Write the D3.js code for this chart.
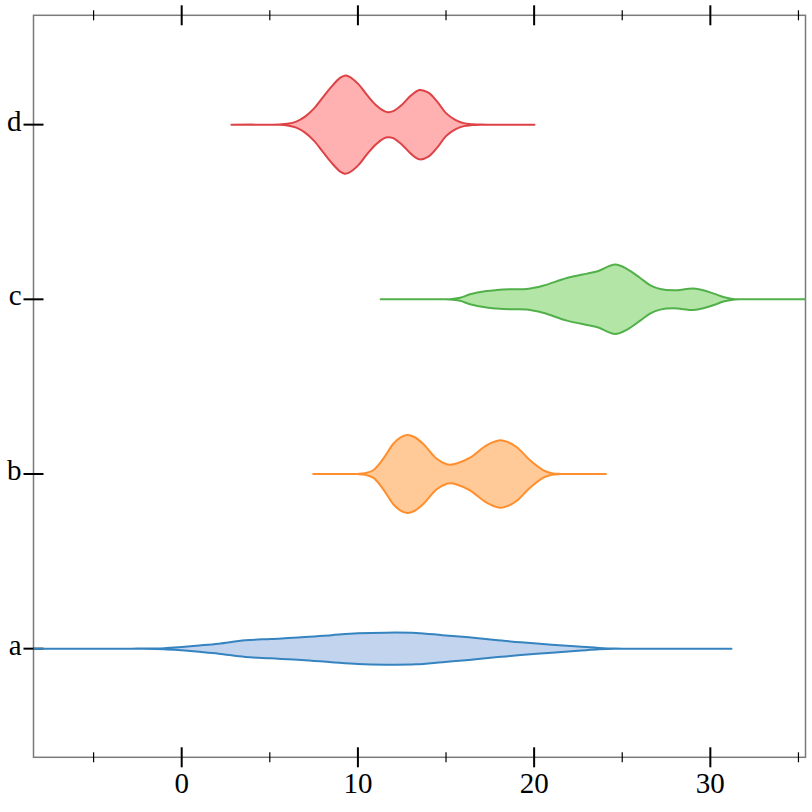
<!DOCTYPE html>
<html>
<head>
<meta charset="utf-8">
<script src="https://cdn.jsdelivr.net/npm/d3@7"></script>
<style>
  html, body { margin: 0; padding: 0; background: #fff; }
  svg { display: block; }
</style>
</head>
<body>
<svg id="chart" width="812" height="812"></svg>
<script>
// ---- data ----
const categories = ["a", "b", "c", "d"];
const majorTicks = [0, 10, 20, 30];
const minorTicks = [-5, 5, 15, 25, 35];
const tickLabels = ["0", "10", "20", "30"];

// density profiles: [value, density]
const violinA = [[-9,0],[-3.5,0],[-2.5,0.05],[-1.0,0.5],[0.0,1.7],[1.0,3.2],[2.1,5],[3.6,8.3],[5.05,9.7],[6.8,11.3],[8.5,13.5],[10.0,15.3],[11.56,16],[13.3,15.7],[14.8,13.5],[16.3,11.3],[17.8,8.7],[19.25,6.3],[21.0,4],[22.5,2.2],[23.7,0.7],[24.6,0.05],[25.6,0],[31.2,0]];
const violinB = [[7.46,0],[9.4,0],[10.0,0.1],[10.4,0.8],[10.87,3.7],[11.44,15.3],[12.0,30],[12.4,36.3],[12.8,39],[13.2,37],[13.71,30],[14.47,15.3],[15.04,9.7],[15.23,9.3],[15.6,10.5],[16.36,16.3],[17.3,28.7],[18.07,33.7],[18.5,32],[19.0,27],[19.77,13.7],[20.53,3.7],[21.0,0.8],[21.5,0.1],[22.1,0],[24.07,0]];
const violinC = [[11.29,0],[14.6,0],[15.2,0.1],[15.8,1.5],[16.36,5],[17.3,8.3],[17.88,9.3],[18.6,10],[19.58,10.3],[20.5,13.5],[21.86,21.3],[23.0,25.7],[23.6,28],[24.6,34.7],[25.3,30],[26.02,21.3],[26.6,14],[27.16,10.3],[27.9,9],[29.05,10.7],[29.6,9],[30.2,5.7],[30.8,2],[31.4,0.1],[32.0,0],[36,0]];
const violinD = [[2.82,0],[5.0,0],[5.5,0.1],[6.0,0.8],[6.5,3],[7.0,8],[7.5,16],[8.0,27],[8.5,38],[9.0,47],[9.25,49],[9.5,48],[10.0,41],[10.5,30],[11.0,20],[11.5,13.5],[11.7,12.5],[12.0,13.5],[12.5,20],[13.0,29],[13.5,34.7],[14.0,32],[14.5,23],[15.0,11.5],[15.5,5],[16.0,1.5],[16.5,0.4],[17,0.05],[17.6,0],[20.02,0]];

const violins = [violinA, violinB, violinC, violinD];
const strokeColors = ["#3584c0", "#ff8f2e", "#52b04b", "#dd4246"];
const fillColors = ["#c3d4ee", "#ffca98", "#b3e6a6", "#ffb0b0"];

(function () {
// ---- layout ----
const svg = d3.select("#chart");
const pl = 33.5, pr = 805.5, pt = 15.3, pb = 757.3;

const x = d3.scaleLinear().domain([-8.41, 35.40]).range([pl, pr]);
const y = d3.scaleLinear().domain([-0.622, 3.626]).range([pb, pt]);
const step = y(0) - y(1);
const w = d3.scaleLinear().domain([0, 50]).range([0, 50 / 174.67 * step]);

const fontFamily = "'Liberation Serif', 'Times New Roman', serif";

// clip
svg.append("defs").append("clipPath").attr("id", "clip")
  .append("rect").attr("x", pl).attr("y", pt)
  .attr("width", pr - pl).attr("height", pb - pt);

// frame
svg.append("rect")
  .attr("x", pl).attr("y", pt)
  .attr("width", pr - pl).attr("height", pb - pt)
  .attr("fill", "none").attr("stroke", "#7a7a7a").attr("stroke-width", 1.5);

// x ticks (top and bottom, crossing the frame)
[pb, pt].forEach(yy => {
  const g = svg.append("g");
  g.selectAll("line.major").data(majorTicks).join("line")
    .attr("class", "major")
    .attr("x1", d => x(d)).attr("x2", d => x(d))
    .attr("y1", yy - 10).attr("y2", yy + 10)
    .attr("stroke", "#000").attr("stroke-width", 2);
  g.selectAll("line.minor").data(minorTicks.filter(d => x(d) <= pr)).join("line")
    .attr("class", "minor")
    .attr("x1", d => x(d)).attr("x2", d => x(d))
    .attr("y1", yy - 5).attr("y2", yy + 5)
    .attr("stroke", "#000").attr("stroke-width", 1.2);
});

// x labels
svg.append("g").selectAll("text").data(majorTicks).join("text")
  .attr("x", d => x(d)).attr("y", pb + 36)
  .attr("text-anchor", "middle")
  .attr("font-family", fontFamily).attr("font-size", 29)
  .attr("fill", "#000")
  .text((d, i) => tickLabels[i]);

// y ticks and labels
const gy = svg.append("g");
gy.selectAll("line").data(categories).join("line")
  .attr("x1", pl - 10).attr("x2", pl + 10)
  .attr("y1", (d, i) => y(i)).attr("y2", (d, i) => y(i))
  .attr("stroke", "#000").attr("stroke-width", 2);
gy.selectAll("text").data(categories).join("text")
  .attr("x", pl - 12).attr("y", (d, i) => y(i) + 6)
  .attr("text-anchor", "end")
  .attr("font-family", fontFamily).attr("font-size", 29)
  .attr("fill", "#000")
  .text(d => d);

// violins
const gv = svg.append("g").attr("clip-path", "url(#clip)");
violins.forEach((prof, i) => {
  const yc = y(i);
  const area = d3.area()
    .x(d => x(d[0]))
    .y0(d => yc + w(d[1]))
    .y1(d => yc - w(d[1]))
    .curve(d3.curveCatmullRom.alpha(0.5));
  gv.append("path")
    .datum(prof)
    .attr("d", area)
    .attr("fill", fillColors[i])
    .attr("stroke", strokeColors[i])
    .attr("stroke-width", 2)
    .attr("stroke-linejoin", "round");
});
})();
</script>
</body>
</html>
